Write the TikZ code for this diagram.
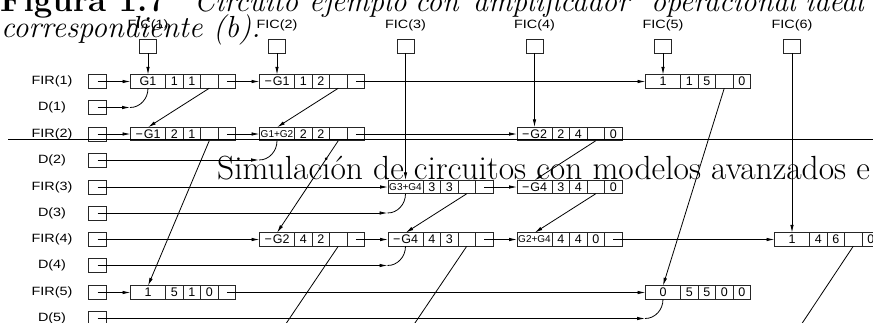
\documentclass[tikz,border=0pt]{standalone}
\usepackage{fontspec}
\newfontfamily\cadfont[FakeStretch=1.2]{Liberation Sans}
\newfontfamily\cellfont{Liberation Sans}
\usetikzlibrary{arrows.meta}
\newcommand\sm[1]{{\fontsize{10}{10}\selectfont #1}}
\newcommand\mkrec[7]{%
  \node[vcell] (#1v) at (#2) {#3};
  \node[cell,anchor=west] (#1a) at (#1v.east) {#4};
  \node[cell,anchor=west] (#1b) at (#1a.east) {#5};
  \node[cell,anchor=west] (#1c) at (#1b.east) {#6};
  \node[cell,anchor=west] (#1d) at (#1c.east) {#7};
}
\tikzset{
  box/.style={draw=black!85, line width=0.9pt, inner sep=0pt, outer sep=0pt,
    font=\cellfont\fontsize{12.5}{12.5}\selectfont},
  vcell/.style={box, minimum width=35pt, minimum height=13.5pt},
  cell/.style={box, minimum width=17.5pt, minimum height=13.5pt},
  hbox/.style={box, minimum width=18pt, minimum height=14pt},
  fbox/.style={box, minimum width=17pt, minimum height=14pt},
  lbl/.style={inner sep=0pt, font=\cadfont\fontsize{12}{12}\selectfont},
  ptr/.style={draw, line width=0.8pt, -{Latex[length=8pt,width=3.5pt]}},
  wire/.style={draw, line width=0.8pt},
  pagetxt/.style={anchor=base west, inner sep=0pt, font=\fontsize{30}{36}\selectfont},
  captxt/.style={pagetxt, font=\fontsize{30}{36}\selectfont\itshape},
}
\begin{document}
\begin{tikzpicture}[x=1pt,y=-1pt]
\useasboundingbox (0,0) rectangle (873,322);
\clip (0,0) rectangle (873,322);

% column headers
\foreach \i/\x in {1/148,2/277,3/405.5,4/534.5,5/663,6/792}{
  \node[lbl] (ficl\i) at (\x,25) {FIC(\i)};
  \node[fbox] (fic\i) at (\x,46) {};
}
% row headers
\foreach \i/\y in {1/81.5,2/134,3/187,4/239.5,5/292.5}{
  \node[lbl] (firl\i) at (52,\y) {FIR(\i)};
  \node[hbox] (fir\i) at (97.5,\y) {};
}
\foreach \i/\y in {1/107.5,2/160,3/213,4/265.5,5/318.5}{
  \node[lbl] (dl\i) at (52,\y) {D(\i)};
  \node[hbox] (d\i) at (97.5,\y) {};
}

% records
\mkrec{r11}{148,81.5}{G1}{1}{1}{}{}
\mkrec{r12}{277,81.5}{−\kern1pt G1}{1}{2}{}{}
\mkrec{r15}{663,81.5}{1}{1}{5}{}{0}
\mkrec{r21}{148,134}{−\kern1pt G1}{2}{1}{}{}
\mkrec{r22}{277,134}{\sm{G1+G2}}{2}{2}{}{}
\mkrec{r24}{534.5,134}{−\kern1pt G2}{2}{4}{}{0}
\mkrec{r33}{405.5,187}{\sm{G3+G4}}{3}{3}{}{}
\mkrec{r34}{534.5,187}{−\kern1pt G4}{3}{4}{}{0}
\mkrec{r42}{277,239.5}{−\kern1pt G2}{4}{2}{}{}
\mkrec{r43}{405.5,239.5}{−\kern1pt G4}{4}{3}{}{}
\mkrec{r44}{534.5,239.5}{\sm{G2+G4}}{4}{4}{0}{}
\mkrec{r46}{792,239.5}{1}{4}{6}{}{0}
\mkrec{r51}{148,292.5}{1}{5}{1}{0}{}
\mkrec{r55}{663,292.5}{0}{5}{5}{0}{0}

% row pointers
\draw[ptr] (fir1.center) -- (r11v.west);
\draw[ptr] (r11d.center) -- (r12v.west);
\draw[ptr] (r12d.center) -- (r15v.west);
\draw[ptr] (fir2.center) -- (r21v.west);
\draw[ptr] (r21d.center) -- (r22v.west);
\draw[ptr] (r22d.center) -- (r24v.west);
\draw[ptr] (fir3.center) -- (r33v.west);
\draw[ptr] (r33d.center) -- (r34v.west);
\draw[ptr] (fir4.center) -- (r42v.west);
\draw[ptr] (r42d.center) -- (r43v.west);
\draw[ptr] (r43d.center) -- (r44v.west);
\draw[ptr] (r44d.center) -- (r46v.west);
\draw[ptr] (fir5.center) -- (r51v.west);
\draw[ptr] (r51d.center) -- (r55v.west);

% diagonal pointers
\coordinate (t1) at (130,107.5);
\coordinate (t2) at (259,160);
\coordinate (t3) at (387.5,213);
\coordinate (t4) at (387.5,265.5);
\coordinate (t5) at (645,318.5);
\draw[ptr] (d1.center) -- (t1);
\draw[wire] (t1) to[out=0,in=-90] (r11v.south);
\draw[ptr] (d2.center) -- (t2);
\draw[wire] (t2) to[out=0,in=-90] (r22v.south);
\draw[ptr] (d3.center) -- (t3);
\draw[wire] (t3) to[out=0,in=-90] (r33v.south);
\draw[ptr] (d4.center) -- (t4);
\draw[wire] (t4) to[out=0,in=-90] (r43v.south);
\draw[ptr] (d5.center) -- (t5);
\draw[wire] (t5) to[out=0,in=-90] (r55v.south);

% column pointers
\draw[ptr] (fic1.south) -- (r11v.north);
\draw[ptr] (fic2.south) -- (r12v.north);
\draw[ptr] (fic3.south) -- (r33v.north);
\draw[ptr] (fic4.south) -- (r24v.north);
\draw[ptr] (fic5.south) -- (r15v.north);
\draw[ptr] (fic6.south) -- (r46v.north);
\draw[ptr] (r11c.south) -- (r21v.north);
\draw[ptr] (r12c.south) -- (r22v.north);
\draw[ptr] (r15c.south) -- (r55v.north);
\draw[ptr] (r21c.south) -- (r51v.north);
\draw[ptr] (r22c.south) -- (r42v.north);
\draw[ptr] (r24c.south) -- (r34v.north);
\draw[ptr] (r33c.south) -- (r43v.north);
\draw[ptr] (r34c.south) -- (r44v.north);
\coordinate (b2) at (277,337);
\coordinate (b3) at (405.5,337);
\coordinate (b6) at (793,337);
\draw[wire] (r42c.south) -- (b2);
\draw[wire] (r43c.south) -- (b3);
\draw[wire] (r46c.south) -- (b6);

% overlapping page text
\node[pagetxt, font=\fontsize{33}{40}\selectfont\bfseries] (fig) at (0,11) {Figura 1.7};
\node[captxt] (w1) at (194,11.5) {Circuito};
\node[captxt] (w2) at (309,11.5) {ejemplo};
\node[captxt] (w3) at (415,11.5) {con};
\node[captxt] (w4) at (473,11.5) {amplificador};
\node[captxt] (w5) at (651,11.5) {operacional};
\node[captxt] (w6) at (805,11.5) {ideal};
\node[pagetxt, font=\fontsize{30.5}{36}\selectfont\itshape] (cap2) at (1,37) {correspondiente (b).};
\node[pagetxt, font=\fontsize{33.5}{40}\selectfont] (head) at (217,179) {Simulación de circuitos con modelos avanzados e};
\draw[line width=1.3pt] (8,139.3) -- (873,139.3);
\end{tikzpicture}
\end{document}
